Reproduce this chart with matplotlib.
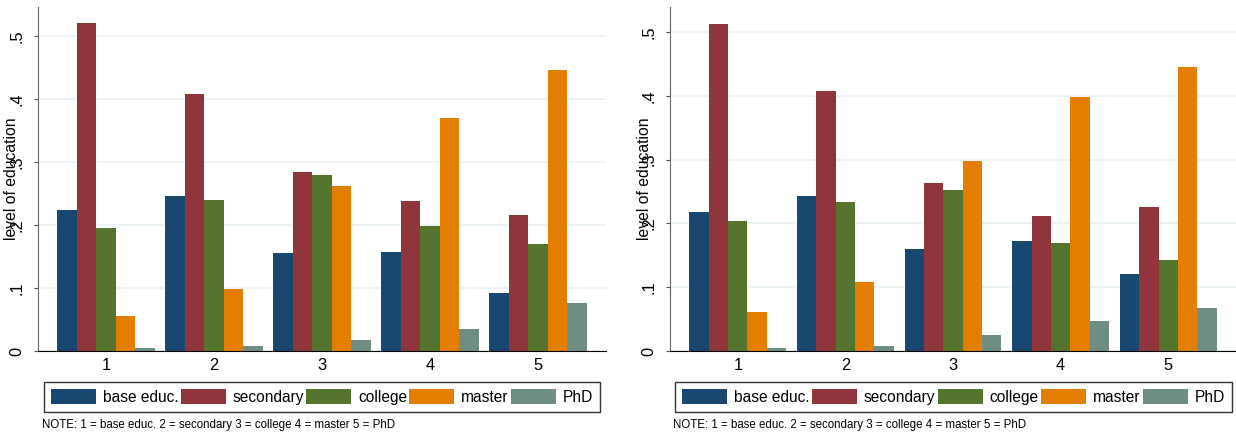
import numpy as np
import matplotlib
matplotlib.use("Agg")
import matplotlib.pyplot as plt

plt.rcParams['font.family'] = ['Liberation Sans', 'DejaVu Sans']

groups = ["1", "2", "3", "4", "5"]
series = ["base educ.", "secondary", "college", "master", "PhD"]
colors = ["#1a476f", "#90353b", "#55752f", "#e37e00", "#6e8e84"]

# left panel: share per group, one list per series
left_base = [0.224, 0.246, 0.155, 0.157, 0.092]
left_secondary = [0.521, 0.408, 0.284, 0.238, 0.216]
left_college = [0.195, 0.240, 0.279, 0.198, 0.170]
left_master = [0.056, 0.098, 0.262, 0.370, 0.446]
left_phd = [0.005, 0.008, 0.018, 0.035, 0.076]

# right panel
right_base = [0.218, 0.243, 0.160, 0.173, 0.120]
right_secondary = [0.513, 0.407, 0.264, 0.212, 0.225]
right_college = [0.203, 0.233, 0.253, 0.170, 0.142]
right_master = [0.061, 0.108, 0.298, 0.398, 0.445]
right_phd = [0.004, 0.008, 0.025, 0.047, 0.068]

yticks = [0, 0.1, 0.2, 0.3, 0.4, 0.5]
ytick_labels = ["0", ".1", ".2", ".3", ".4", ".5"]
note = "NOTE: 1 = base educ. 2 = secondary 3 = college 4 = master 5 = PhD"

fig = plt.figure(figsize=(12.36, 4.36), dpi=100)


def panel(rect, data, ytop, leg_rect, note_x):
    ax = fig.add_axes(rect)
    x = np.arange(1, len(groups) + 1)
    w = 0.18
    for i, (vals, name, c) in enumerate(zip(data, series, colors)):
        ax.bar(x + (i - 2) * w, vals, w, color=c, label=name, zorder=3)
    ax.set_xlim(0.37, 5.63)
    ax.set_ylim(0, ytop)
    ax.set_xticks(x)
    ax.set_xticklabels(groups)
    ax.set_yticks(yticks)
    ax.set_yticklabels(ytick_labels, rotation=90, va='center')
    ax.tick_params(axis='x', length=0, pad=5, labelsize=11.8)
    ax.tick_params(axis='y', length=3, pad=7, labelsize=11.8, color='#555555')
    ax.grid(axis='y', color='#eaf2f3', linewidth=1.2, zorder=0)
    for s in ['top', 'right']:
        ax.spines[s].set_visible(False)
    ax.spines['left'].set_color('#666666')
    ax.spines['bottom'].set_color('black')
    ax.spines['bottom'].set_zorder(4)
    ax.set_ylabel("level of education", fontsize=11.3, va='center')
    ax.yaxis.set_label_coords(-26 / (rect[2] * 1236), 0.5)
    leg = ax.legend(ncol=5, loc='lower left', bbox_to_anchor=leg_rect,
                    bbox_transform=fig.transFigure, mode='expand',
                    fontsize=11.2, frameon=True, fancybox=False,
                    edgecolor='black', handlelength=2.9, handleheight=1.1,
                    handletextpad=0.45, columnspacing=0.1, borderpad=0.45,
                    borderaxespad=0)
    leg.get_frame().set_linewidth(1.0)
    fig.text(note_x, 0.025, note, fontsize=8.3, va='center', ha='left')
    return ax


panel([38 / 1236, 85 / 436, 568 / 1236, 344 / 436],
      [left_base, left_secondary, left_college, left_master, left_phd],
      0.546, (44 / 1236, 24 / 436, 556 / 1236, 29 / 436), 42 / 1236)
panel([670 / 1236, 85 / 436, 566 / 1236, 344 / 436],
      [right_base, right_secondary, right_college, right_master, right_phd],
      0.539, (675 / 1236, 24 / 436, 557 / 1236, 29 / 436), 673 / 1236)

fig.savefig("out.png", dpi=100)
